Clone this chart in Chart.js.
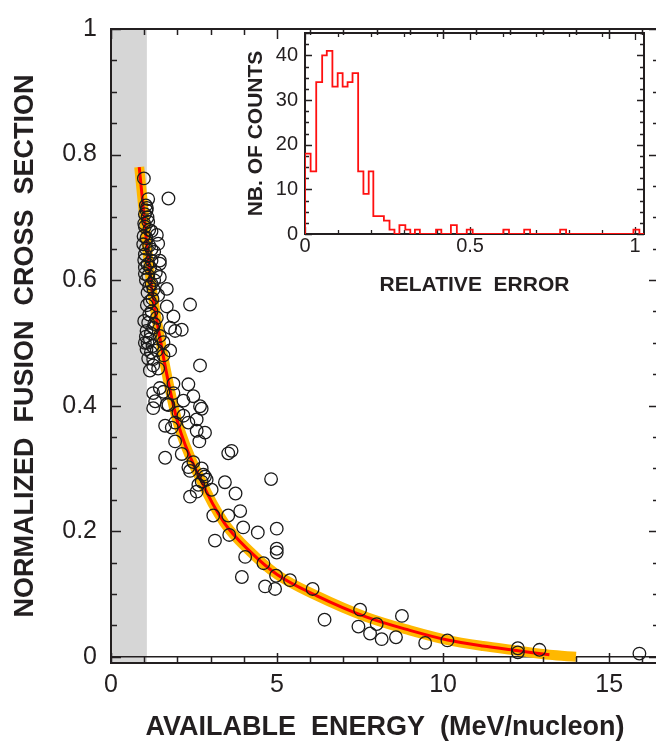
<!DOCTYPE html>
<html>
<head>
<meta charset="utf-8">
<script src="https://cdn.jsdelivr.net/npm/chart.js@4.4.1/dist/chart.umd.min.js"></script>
<style>
  html, body { margin: 0; padding: 0; overflow: hidden; background: #fff; }
  #wrap { position: relative; width: 656px; height: 746px; overflow: hidden; }
  #main, #inset { position: absolute; left: 0; top: 0; }
</style>
</head>
<body>
<div id="wrap">
  <canvas id="main" width="680" height="746"></canvas>
  <canvas id="inset" width="656" height="310"></canvas>
</div>
<script>
// measured points (available energy, normalized cross section)
var energy = [0.99, 1.73, 1.12, 1.05, 1.07, 1.02, 1.10, 1.12, 1.02, 1.22, 1.38, 1.07, 1.42, 0.97, 1.15, 1.22, 1.02, 1.30, 1.47, 1.22,
  1.00, 1.10, 1.02, 1.47, 1.12, 1.47, 1.22, 1.68, 1.42, 2.38, 1.17, 1.68, 1.22, 1.88, 1.38, 1.12, 1.78, 2.13, 1.93, 1.07,
  1.27, 1.47, 1.17, 1.58, 1.07, 1.38, 1.78, 1.58, 1.27, 2.68, 1.05, 1.15, 1.30, 1.10, 1.25, 1.35, 1.28, 1.15, 1.30, 1.20,
  1.10, 1.25, 1.20, 1.27, 1.17, 1.42, 1.88, 2.33, 1.47, 1.27, 1.58, 1.88, 2.48, 1.33, 1.68, 1.27, 2.68, 2.18, 1.73, 2.73,
  2.03, 2.18, 2.58, 2.33, 1.93, 1.63, 1.83, 2.58, 2.83, 2.66, 1.93, 1.63, 2.13, 3.53, 3.63, 2.48, 2.33, 2.38, 2.73, 2.83,
  2.88, 2.78, 2.73, 2.63, 3.03, 3.43, 2.58, 2.38, 3.75, 4.82, 3.08, 3.53, 3.89, 3.98, 4.42, 4.99, 3.13, 3.56, 4.99, 4.99,
  4.04, 4.59, 3.94, 4.97, 5.39, 4.64, 4.94, 6.07, 6.43, 7.50, 7.45, 7.80, 8.00, 8.15, 8.76, 8.58, 9.46, 10.13, 12.25, 12.25,
  12.90, 15.91, 1.08, 1.00, 1.15, 0.98, 1.05, 1.02, 1.00, 1.05, 1.12, 1.02, 1.18, 1.08];
var sigma = [0.762, 0.730, 0.729, 0.719, 0.711, 0.705, 0.700, 0.693, 0.685, 0.678, 0.672, 0.667, 0.658, 0.657, 0.655, 0.649, 0.641, 0.645, 0.631, 0.631,
  0.632, 0.625, 0.620, 0.626, 0.607, 0.605, 0.594, 0.586, 0.576, 0.561, 0.566, 0.558, 0.550, 0.542, 0.540, 0.532, 0.524, 0.521, 0.519, 0.519,
  0.524, 0.511, 0.506, 0.501, 0.490, 0.488, 0.488, 0.480, 0.474, 0.464, 0.600, 0.590, 0.600, 0.580, 0.570, 0.612, 0.585, 0.545, 0.530, 0.515,
  0.500, 0.495, 0.485, 0.464, 0.456, 0.459, 0.435, 0.434, 0.428, 0.420, 0.422, 0.420, 0.415, 0.407, 0.402, 0.396, 0.399, 0.408, 0.401, 0.395,
  0.389, 0.384, 0.378, 0.373, 0.373, 0.368, 0.365, 0.360, 0.357, 0.343, 0.343, 0.317, 0.323, 0.324, 0.328, 0.310, 0.302, 0.296, 0.300, 0.287,
  0.282, 0.290, 0.279, 0.274, 0.266, 0.278, 0.263, 0.255, 0.260, 0.283, 0.225, 0.225, 0.232, 0.206, 0.198, 0.204, 0.185, 0.194, 0.172, 0.166,
  0.159, 0.149, 0.127, 0.129, 0.122, 0.112, 0.108, 0.108, 0.059, 0.075, 0.048, 0.037, 0.052, 0.028, 0.065, 0.031, 0.022, 0.026, 0.0135, 0.007,
  0.011, 0.005, 0.715, 0.690, 0.680, 0.670, 0.650, 0.610, 0.535, 0.510, 0.475, 0.500, 0.620, 0.560];

// fitted curve (red) and its band (orange)
var fitEnergy = [0.85, 1.0, 1.17, 1.5, 2.0, 2.7, 3.4, 4.2, 5.0, 6.2, 7.7, 9.0, 10.1, 11.2, 12.2, 13.2];
var fitSigma = [0.78, 0.70, 0.61, 0.50, 0.375, 0.282, 0.214, 0.167, 0.131, 0.097, 0.063, 0.042, 0.027, 0.017, 0.010, 0.003];
var bandEnergy = [0.85, 1.0, 1.17, 1.5, 2.0, 2.7, 3.4, 4.2, 5.0, 6.2, 7.7, 9.0, 10.1, 11.2, 12.2, 13.2, 14.0];
var bandSigma = [0.78, 0.70, 0.61, 0.50, 0.375, 0.282, 0.214, 0.167, 0.131, 0.097, 0.063, 0.042, 0.027, 0.017, 0.010, 0.003, 0.0];
var shadeEnergy = 1.08;

var energyTicks = [0, 5, 10, 15];
var sigmaTicks = [0, 0.2, 0.4, 0.6, 0.8, 1];

// inset histogram: left edge of each step and its count
var errorEdges = [0, 0, 0.017, 0.034, 0.052, 0.066, 0.083, 0.099, 0.114, 0.129, 0.144, 0.161, 0.177, 0.193, 0.207, 0.239, 0.256, 0.271, 0.286,
  0.304, 0.319, 0.333, 0.348, 0.397, 0.413, 0.442, 0.460, 0.490, 0.508, 0.601, 0.618, 0.664, 0.682, 0.773, 0.791, 0.995, 1.013, 1.027];
var errorCounts = [0, 18, 14, 34, 40, 41, 33, 36, 33, 34, 36, 14, 9, 14, 4, 3, 1, 0, 2,
  1, 0, 1, 0, 1, 0, 2, 0, 1, 0, 1, 0, 1, 0, 1, 0, 1, 0, 0];
var errorTicks = [0, 0.5, 1];
var countTicks = [0, 10, 20, 30, 40];

var ink = '#231f20';
Chart.defaults.font.family = '"Liberation Sans", Arial, Helvetica, sans-serif';
Chart.defaults.color = ink;

function pts(xs, ys) {
  return xs.map(function (x, i) { return { x: x, y: ys[i] }; });
}

function setTicks(list) {
  return function (scale) {
    scale.ticks = list.map(function (v) { return { value: v }; });
  };
}

function drawBox(chart, s) {
  var ctx = chart.ctx, a = chart.chartArea;
  var xs = chart.scales.x, ys = chart.scales.y;
  ctx.save();
  ctx.strokeStyle = ink;
  ctx.lineWidth = s.frame;
  ctx.strokeRect(a.left, a.top, a.right - a.left, a.bottom - a.top);
  ctx.lineWidth = s.tick;
  ctx.beginPath();
  for (var i = 0; i * s.xStep <= xs.max + 1e-9; i++) {
    var px = Math.round(xs.getPixelForValue(i * s.xStep)) + 0.5;
    var len = (i % s.xEvery === 0) ? s.major : s.minor;
    ctx.moveTo(px, a.bottom); ctx.lineTo(px, a.bottom - len);
    ctx.moveTo(px, a.top); ctx.lineTo(px, a.top + len);
  }
  for (var j = 0; j * s.yStep <= ys.max + 1e-9; j++) {
    var py = Math.round(ys.getPixelForValue(j * s.yStep)) + 0.5;
    var l2 = (j % s.yEvery === 0) ? s.major : s.minor;
    ctx.moveTo(a.left, py); ctx.lineTo(a.left + l2, py);
    ctx.moveTo(a.right, py); ctx.lineTo(a.right - l2, py);
  }
  ctx.stroke();
  ctx.restore();
}

var mainDecor = {
  id: 'mainDecor',
  beforeDatasetsDraw: function (chart) {
    var ctx = chart.ctx, a = chart.chartArea, xs = chart.scales.x, ys = chart.scales.y;
    ctx.save();
    ctx.fillStyle = '#d6d6d6';
    var x0 = xs.getPixelForValue(0), x1 = xs.getPixelForValue(shadeEnergy);
    ctx.fillRect(x0, a.top, x1 - x0, a.bottom - a.top);
    ctx.strokeStyle = ink;
    ctx.lineWidth = 1.5;
    var y0 = ys.getPixelForValue(0);
    ctx.beginPath();
    ctx.moveTo(a.left, y0); ctx.lineTo(a.right, y0);
    ctx.stroke();
    ctx.restore();
  },
  afterDatasetsDraw: function (chart) {
    drawBox(chart, { frame: 2, tick: 1.5, xStep: 1, xEvery: 5, yStep: 0.05, yEvery: 4, major: 10, minor: 6 });
  }
};

new Chart(document.getElementById('main'), {
  type: 'scatter',
  data: {
    datasets: [
      {
        data: pts(energy, sigma),
        pointStyle: 'circle', pointRadius: 6.3, pointBorderWidth: 1.3,
        pointBorderColor: '#1a1a1a', pointBackgroundColor: 'rgba(0,0,0,0)',
        order: 0
      },
      {
        data: pts(fitEnergy, fitSigma), showLine: true, pointRadius: 0,
        borderColor: '#ff0000', borderWidth: 3, cubicInterpolationMode: 'monotone', order: 1
      },
      {
        data: pts(bandEnergy, bandSigma), showLine: true, pointRadius: 0,
        borderColor: '#ffb800', borderWidth: 10, cubicInterpolationMode: 'monotone', order: 2
      }
    ]
  },
  options: {
    responsive: false,
    animation: false,
    layout: { padding: { left: 0, top: 17, right: 21, bottom: 0 } },
    plugins: { legend: { display: false }, tooltip: { enabled: false } },
    scales: {
      x: {
        type: 'linear', min: 0, max: 16.5,
        afterBuildTicks: setTicks(energyTicks),
        afterFit: function (s) { s.height = 83; },
        grid: { display: false, drawTicks: false },
        border: { display: false },
        ticks: { padding: 7, color: ink, font: { size: 25 }, maxRotation: 0, autoSkip: false,
          callback: function (v) { return String(v); } },
        title: { display: true, text: 'AVAILABLE  ENERGY  (MeV/nucleon)', color: ink,
          font: { size: 27, weight: 'bold' }, padding: { top: 0, bottom: 2 } }
      },
      y: {
        type: 'linear', min: -0.01, max: 1,
        afterBuildTicks: setTicks(sigmaTicks),
        afterFit: function (s) { s.width = 111; },
        grid: { display: false, drawTicks: false },
        border: { display: false },
        ticks: { padding: 14, color: ink, font: { size: 25 }, autoSkip: false,
          callback: function (v) { return String(v); } },
        title: { display: true, text: 'NORMALIZED  FUSION  CROSS  SECTION', color: ink,
          font: { size: 27, weight: 'bold' }, padding: { top: 9, bottom: 0 } }
      }
    }
  },
  plugins: [mainDecor]
});

var insetDecor = {
  id: 'insetDecor',
  beforeDatasetsDraw: function (chart) {
    drawBox(chart, { frame: 2, tick: 1.3, xStep: 0.1, xEvery: 5, yStep: 2.5, yEvery: 4, major: 7, minor: 4 });
  }
};

new Chart(document.getElementById('inset'), {
  type: 'scatter',
  data: {
    datasets: [{
      data: pts(errorEdges, errorCounts), showLine: true, pointRadius: 0,
      stepped: 'before', borderColor: '#ff1010', borderWidth: 1.8
    }]
  },
  options: {
    responsive: false,
    animation: false,
    layout: { padding: { left: 230, top: 33, right: 12, bottom: 0 } },
    plugins: { legend: { display: false }, tooltip: { enabled: false } },
    scales: {
      x: {
        type: 'linear', min: 0, max: 1.027,
        afterBuildTicks: setTicks(errorTicks),
        afterFit: function (s) { s.height = 76; },
        grid: { display: false, drawTicks: false },
        border: { display: false },
        ticks: { padding: 0, color: ink, font: { size: 20 }, maxRotation: 0, autoSkip: false,
          callback: function (v) { return String(v); } },
        title: { display: true, text: 'RELATIVE  ERROR', color: ink,
          font: { size: 21, weight: 'bold' }, padding: { top: 0, bottom: 12 } }
      },
      y: {
        type: 'linear', min: 0, max: 45,
        afterBuildTicks: setTicks(countTicks),
        afterFit: function (s) { s.width = 75; },
        grid: { display: false, drawTicks: false },
        border: { display: false },
        ticks: { padding: 7, color: ink, font: { size: 20 }, autoSkip: false,
          callback: function (v) { return String(v); } },
        title: { display: true, text: 'NB. OF COUNTS', color: ink,
          font: { size: 21, weight: 'bold' }, padding: { top: 14, bottom: 0 } }
      }
    }
  },
  plugins: [insetDecor]
});
</script>
</body>
</html>
